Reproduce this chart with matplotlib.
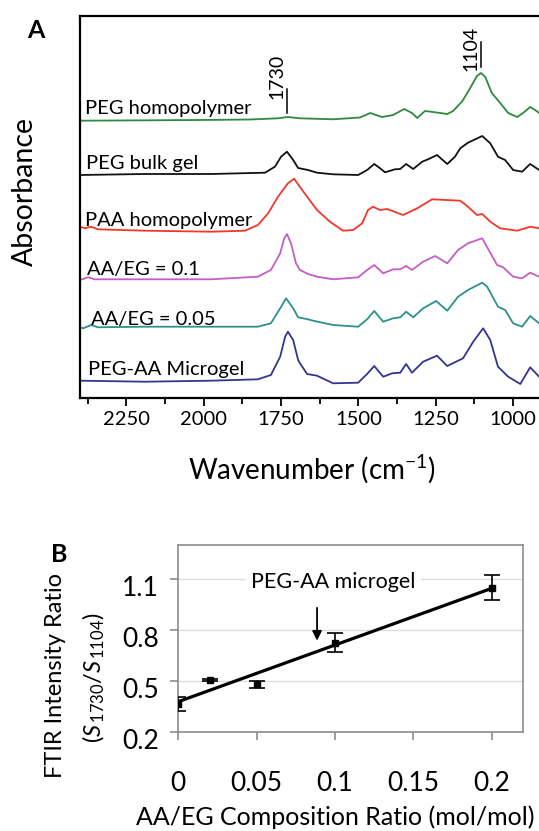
import matplotlib
matplotlib.use("Agg")
import matplotlib.pyplot as plt
import matplotlib.transforms as mtransforms
from matplotlib.ticker import MultipleLocator

plt.rcParams['font.family'] = 'Lato'
plt.rcParams['mathtext.fontset'] = 'custom'
plt.rcParams['mathtext.rm'] = 'Lato'
plt.rcParams['mathtext.it'] = 'Lato:italic'

# ---- panel A: FTIR spectra (stacked, arbitrary absorbance units) ----
peg_homo_wn = [2400, 2174, 2012, 1850, 1760, 1728, 1689, 1582, 1495, 1462, 1424, 1388, 1352, 1327,
               1310, 1285, 1259, 1213, 1194, 1164, 1137, 1117, 1104, 1090, 1069, 1042, 1016, 987,
               968, 945, 929, 916]
peg_homo_abs = [2.773, 2.777, 2.78, 2.785, 2.797, 2.81, 2.797, 2.787, 2.805, 2.85, 2.81, 2.83, 2.89, 2.85,
                2.80, 2.87, 2.86, 2.84, 2.87, 2.97, 3.11, 3.22, 3.25, 3.21, 3.05, 2.95, 2.85, 2.81,
                2.85, 2.91, 2.88, 2.85]

peg_gel_wn = [2400, 2190, 1976, 1802, 1770, 1750, 1731, 1711, 1695, 1663, 1634, 1582, 1501, 1472,
              1449, 1430, 1414, 1382, 1365, 1346, 1323, 1294, 1275, 1246, 1213, 1188, 1171, 1146,
              1100, 1074, 1049, 1026, 1000, 971, 945, 916]
peg_gel_abs = [2.23, 2.24, 2.24, 2.253, 2.313, 2.413, 2.463, 2.38, 2.30, 2.28, 2.253, 2.237, 2.23, 2.28,
               2.34, 2.297, 2.257, 2.287, 2.29, 2.34, 2.29, 2.363, 2.387, 2.43, 2.34, 2.413, 2.497, 2.553,
               2.62, 2.547, 2.413, 2.38, 2.28, 2.263, 2.34, 2.28]

paa_wn = [2400, 2384, 2364, 2342, 2190, 1976, 1867, 1825, 1792, 1760, 1728, 1708, 1686, 1666,
          1634, 1592, 1550, 1517, 1488, 1469, 1453, 1430, 1407, 1356, 1310, 1262, 1171, 1146,
          1117, 1100, 1074, 1042, 987, 945, 916]
paa_abs = [1.713, 1.697, 1.713, 1.687, 1.673, 1.663, 1.673, 1.73, 1.847, 2.013, 2.147, 2.193, 2.097, 2.013,
           1.88, 1.763, 1.673, 1.68, 1.747, 1.88, 1.913, 1.88, 1.89, 1.83, 1.897, 1.987, 1.973, 1.913,
           1.83, 1.84, 1.763, 1.697, 1.673, 1.713, 1.697]

aa01_wn = [2400, 2374, 2352, 2190, 1976, 1825, 1783, 1753, 1740, 1731, 1718, 1702, 1689, 1663,
           1634, 1582, 1501, 1472, 1449, 1420, 1388, 1365, 1346, 1327, 1291, 1252, 1213, 1178,
           1146, 1100, 1091, 1052, 1032, 1000, 971, 945, 916]
aa01_abs = [1.18, 1.207, 1.187, 1.187, 1.187, 1.213, 1.28, 1.447, 1.597, 1.64, 1.547, 1.347, 1.28, 1.24,
            1.213, 1.187, 1.207, 1.28, 1.33, 1.247, 1.287, 1.287, 1.32, 1.28, 1.363, 1.42, 1.347, 1.48,
            1.547, 1.597, 1.547, 1.33, 1.307, 1.213, 1.197, 1.253, 1.213]

aa005_wn = [2400, 2390, 2364, 2342, 2190, 1976, 1825, 1783, 1753, 1734, 1711, 1695, 1663, 1647,
            1582, 1501, 1472, 1449, 1420, 1388, 1365, 1346, 1323, 1291, 1249, 1213, 1178, 1146,
            1100, 1084, 1049, 1026, 1000, 971, 945, 916]
aa005_abs = [0.707, 0.697, 0.73, 0.707, 0.713, 0.713, 0.713, 0.747, 0.897, 0.997, 0.897, 0.807, 0.787, 0.773,
             0.73, 0.713, 0.787, 0.87, 0.763, 0.797, 0.807, 0.863, 0.807, 0.897, 0.97, 0.873, 1.013, 1.08,
             1.153, 1.113, 0.913, 0.88, 0.747, 0.713, 0.82, 0.747]

microgel_wn = [2400, 2190, 1976, 1825, 1783, 1753, 1737, 1728, 1711, 1695, 1689, 1666, 1634, 1582,
               1501, 1472, 1449, 1420, 1391, 1365, 1346, 1327, 1291, 1246, 1213, 1162, 1129, 1097,
               1074, 1049, 1016, 977, 945, 916]
microgel_abs = [0.173, 0.163, 0.173, 0.187, 0.23, 0.413, 0.613, 0.663, 0.58, 0.38, 0.347, 0.24, 0.223, 0.147,
                0.153, 0.24, 0.32, 0.213, 0.247, 0.253, 0.34, 0.253, 0.363, 0.423, 0.32, 0.397, 0.563, 0.697,
                0.58, 0.313, 0.213, 0.14, 0.307, 0.213]

spectra = [
    ("PEG homopolymer", peg_homo_wn, peg_homo_abs, '#2f8a3e', 2.84, 2384),
    ("PEG bulk gel", peg_gel_wn, peg_gel_abs, '#111111', 2.29, 2381),
    ("PAA homopolymer", paa_wn, paa_abs, '#f2372b', 1.72, 2384),
    ("AA/EG = 0.1", aa01_wn, aa01_abs, '#c35ec3', 1.23, 2377),
    ("AA/EG = 0.05", aa005_wn, aa005_abs, '#2b918c', 0.73, 2364),
    ("PEG-AA Microgel", microgel_wn, microgel_abs, '#33358e', 0.23, 2374),
]

# ---- panel B: intensity ratio vs composition ----
ratio_x = [0, 0.02, 0.05, 0.1, 0.2]
ratio_y = [0.366, 0.507, 0.483, 0.726, 1.05]
ratio_err = [0.043, 0.007, 0.02, 0.056, 0.072]
trend_x = [0, 0.2]
trend_y = [0.38, 1.045]

W, H = 539, 831
fig = plt.figure(figsize=(W / 100, H / 100), dpi=100)

ax = fig.add_axes([80 / W, 1 - 398 / H, 464.4 / W, 382 / H])
for name, wn, ab, col, ty, tx in spectra:
    ax.plot(wn, ab, color=col, lw=1.3, solid_joinstyle='round')
    ax.text(tx, ty, name, fontsize=14.5, color='black', ha='left', va='baseline')

ax.set_xlim(2400, 899)
ax.set_ylim(0, 3.82)
ax.set_yticks([])
ax.xaxis.set_major_locator(MultipleLocator(250))
ax.xaxis.set_minor_locator(MultipleLocator(125))
ax.tick_params(axis='x', which='major', length=6, width=1.3, direction='out', labelsize=14.5, pad=3)
ax.tick_params(axis='x', which='minor', length=4, width=1.3, direction='out')
for s in ax.spines.values():
    s.set_linewidth(1.6)
ax.spines['right'].set_visible(False)
ax.set_xlabel('Wavenumber (cm$^{-1}$)', fontsize=20, labelpad=18)

# peak markers
ax.plot([1730, 1730], [2.85, 3.09], color='black', lw=1.1)
ax.text(1764, 2.99, '1730', rotation=90, fontsize=14, ha='center', va='bottom')
ax.plot([1104, 1104], [3.31, 3.56], color='black', lw=1.1)
ax.text(1137, 3.27, '1104', rotation=90, fontsize=14, ha='center', va='bottom')

fig.text(36 / W, 1 - 31 / H, 'A', fontsize=18, fontweight='bold', ha='center', va='center')
fig.text(25 / W, 1 - 192 / H, 'Absorbance', fontsize=20.5, rotation=90, ha='center', va='center')

# panel B
ax2 = fig.add_axes([178.3 / W, 1 - 732.3 / H, 345 / W, 187.3 / H])
ax2.plot(trend_x, trend_y, color='black', lw=2.3, zorder=3)
ax2.errorbar(ratio_x, ratio_y, yerr=ratio_err, fmt='s', color='black', ms=4.5,
             elinewidth=1.2, capsize=5.5, capthick=1.2, zorder=4)
ax2.set_xlim(0, 0.2203)
ax2.set_ylim(0.2, 1.3)
ax2.set_xticks([0, 0.05, 0.1, 0.15, 0.2])
ax2.set_xticklabels(['0', '0.05', '0.1', '0.15', '0.2'])
ax2.set_yticks([0.2, 0.5, 0.8, 1.1])
ax2.set_yticklabels(['0.2', '0.5', '0.8', '1.1'])
ax2.grid(axis='y', color='#dcdcdc', lw=1.0)
ax2.set_axisbelow(True)
for s in ax2.spines.values():
    s.set_color('#8c8c8c')
    s.set_linewidth(1.2)
ax2.tick_params(axis='both', length=6, width=1.2, color='#8c8c8c', labelsize=19)
ax2.tick_params(axis='x', pad=22)
ax2.tick_params(axis='y', pad=8)
offset = mtransforms.ScaledTranslation(0, -7 / 100, fig.dpi_scale_trans)
for lab in ax2.get_yticklabels():
    lab.set_transform(lab.get_transform() + offset)

ax2.annotate('', xy=(0.0886, 0.722), xytext=(0.0886, 0.947),
             arrowprops=dict(arrowstyle='-|>', color='black', lw=1.3, mutation_scale=14))
ax2.text(0.099, 1.082, 'PEG-AA microgel', fontsize=15.5, ha='center', va='center',
         bbox=dict(facecolor='white', edgecolor='none', pad=4))

fig.text(335 / W, 1 - 825 / H, 'AA/EG Composition Ratio (mol/mol)', fontsize=18,
         ha='center', va='baseline')
fig.text(55 / W, 1 - 675.5 / H, 'FTIR Intensity Ratio', fontsize=17, rotation=90,
         ha='center', va='center')
fig.text(94 / W, 1 - 677.5 / H, r'($S_{\,1730}$/$S_{\,1104}$)', fontsize=17, rotation=90,
         ha='center', va='center')
fig.text(59 / W, 1 - 554 / H, 'B', fontsize=18, fontweight='bold', ha='center', va='center')

fig.savefig('out.png', dpi=100)
